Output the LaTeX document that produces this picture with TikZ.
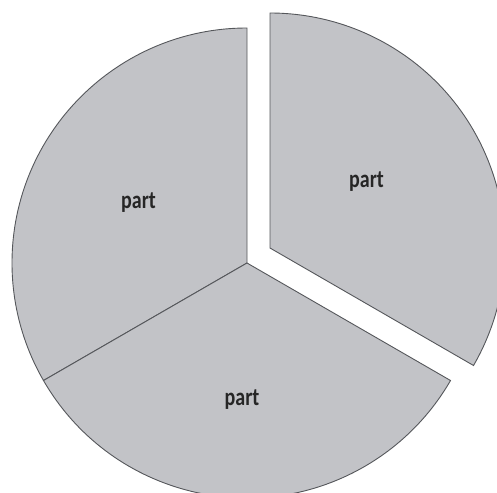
\documentclass[tikz,border=0pt]{standalone}
\usepackage{fontspec}
\newfontfamily\lblfont[FakeStretch=0.8]{Carlito}
\begin{document}
\begin{tikzpicture}[x=1pt,y=1pt,
  slice/.style={fill=sliceg, draw=sliceedge, line width=0.9pt, line join=miter},
  lbl/.style={font=\lblfont\bfseries\fontsize{25}{25}\selectfont, text=black!85, anchor=base, inner sep=0pt}]
\definecolor{sliceg}{HTML}{C2C3C7}
\definecolor{sliceedge}{HTML}{55575B}
\useasboundingbox (0,0) rectangle (497,-492);
\clip (0,0) rectangle (497,-492);
\coordinate (O) at (247,-263);
\coordinate (E) at (270,-248);
% left slice
\draw[slice] (O) -- ++(90:235) arc[start angle=90, end angle=210, radius=235] -- cycle;
% bottom slice
\draw[slice] (O) -- ++(210:235) arc[start angle=210, end angle=330, radius=235] -- cycle;
% exploded slice
\draw[slice] (E) -- ++(-30:235) arc[start angle=-30, end angle=90, radius=235] -- cycle;
\node[lbl] (pl) at (138.5,-208) {part};
\node[lbl] (pr) at (366.5,-187) {part};
\node[lbl] (pb) at (242,-405) {part};
\end{tikzpicture}
\end{document}
